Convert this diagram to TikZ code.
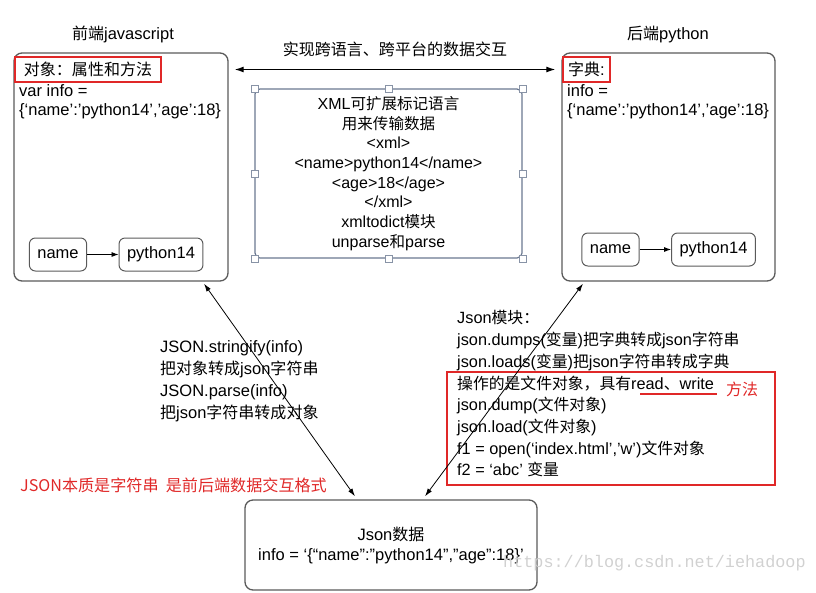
\documentclass[tikz,border=0pt]{standalone}
\usepackage{fontspec}
\setmainfont{Liberation Sans}
\newfontfamily\zhfont[Scale=0.97]{Noto Sans CJK SC}
\newfontfamily\wmfont{Liberation Mono}
\newcommand{\zh}[1]{{\zhfont #1}}
\usepackage{xcolor}
\usetikzlibrary{positioning,calc,arrows.meta}
\definecolor{NoteRed}{HTML}{E02828}
\definecolor{BoxGray}{HTML}{5A5A5A}
\definecolor{XmlEdge}{HTML}{6A7890}

\begin{document}
\begin{tikzpicture}[x=1pt,y=-1pt,every node/.style={font=\fontsize{16.5}{19}\selectfont}]
  \useasboundingbox (0,0) rectangle (816,592);

    \tikzstyle{side}=[
      draw=BoxGray,
      line width=1.3pt,
      rounded corners=8pt,
      minimum width=214pt,
      minimum height=228pt
    ]
    \tikzstyle{pill}=[draw=BoxGray, line width=1pt, rounded corners=6pt, minimum height=33pt, inner xsep=8pt]
    \tikzstyle{redbox}=[draw=NoteRed, line width=2pt, minimum height=25pt, inner xsep=3pt]
    \tikzstyle{txt}=[anchor=north west, inner sep=0pt, align=left]
    \tikzstyle{handle}=[draw=XmlEdge!80, fill=white, line width=0.6pt, minimum size=7pt, inner sep=0pt]
    \tikzstyle{link}=[{Latex[length=8pt,width=5pt]}-{Latex[length=8pt,width=5pt]}, line width=0.8pt]

    % --- Titles ---
    \node (fronttitle) at (123,34) {\zh{前端}javascript};
    \node (backtitle) at (668,35) {\zh{后端}python};
    \node (bridge) at (395,49) {\zh{实现跨语言、跨平台的数据交互}};

    % --- Front end ---
    \node[side] (front) at (121,167) {};
    \node[redbox, anchor=west, minimum width=146pt] (jsobj) at (14,69.5) {\zh{对象：属性和方法}};
    \node[txt] (jsvar) at (19,84) {var info =\\\{‘name’:’python14’,’age’:18\}};
    \node[pill] (jsname) at (58,254.5) {name};
    \node[pill] (jsval) at (161,254.5) {python14};

    % --- Back end ---
    \node[side, minimum width=213pt] (back) at (668.5,167) {};
    \node[redbox, anchor=west, minimum width=47pt] (dict) at (562,69.5) {\zh{字典}:};
    \node[txt] (pyvar) at (567,84) {info =\\\{‘name’:’python14’,’age’:18\}};
    \node[pill] (pyname) at (610.5,249.5) {name};
    \node[pill] (pyval) at (713.5,249.5) {python14};

    % --- XML in the middle ---
    \node[draw=XmlEdge, line width=1.2pt, rounded corners=5pt, minimum width=267pt, minimum height=169pt,
      align=center, font=\fontsize{16}{19.7}\selectfont] (xml) at (388.5,173.5)
      {XML\zh{可扩展标记语言}\\\zh{用来传输数据}\\<xml>\\<name>python14</name>\\<age>18</age>\\</xml>\\xmltodict\zh{模块}\\unparse\zh{和}parse};
    \foreach \a in {north west,north,north east,east,south east,south,south west,west}
      \node[handle] at (xml.\a) {};

    % --- Json data ---
    \node[draw=BoxGray, line width=1.3pt, rounded corners=8pt, minimum width=292pt, minimum height=90pt,
      align=center, font=\fontsize{16.5}{20}\selectfont] (json) at (391,545)
      {Json\zh{数据}\\info = ‘\{“name”:”python14”,”age”:18\}’};

    % --- Notes ---
    \node[txt, font=\fontsize{16.5}{22}\selectfont] (jsapi) at (160,340)
      {JSON.stringify(info)\\\zh{把对象转成}json\zh{字符串}\\JSON.parse(info)\\\zh{把}json\zh{字符串转成对象}};
    \node[txt, font=\fontsize{16.3}{21.7}\selectfont] (pyapi) at (457,310.5)
      {Json\zh{模块：}\\json.dumps(\zh{变量})\zh{把字典转成}json\zh{字符串}\\json.loads(\zh{变量})\zh{把}json\zh{字符串转成字典}\\\zh{操作的是文件对象，具有}read\zh{、}write\\json.dump(\zh{文件对象})\\json.load(\zh{文件对象})\\f1 = open(‘index.html’,’w’)\zh{文件对象}\\f2 = ‘abc’ \zh{变量}};
    \draw[draw=NoteRed, line width=2pt] (447,372) rectangle (775,485);
    \draw[NoteRed, line width=1.5pt] (640,394) -- (717,394);
    \node[anchor=west, text=NoteRed, inner sep=0pt] (method) at (726,389) {\zh{方法}};
    \node[anchor=west, text=NoteRed, inner sep=0pt, font=\zhfont\fontsize{16.6}{19}\selectfont] (essence) at (20,485)
      {JSON本质是字符串\ \ 是前后端数据交互格式};
    \node[anchor=west, inner sep=0pt, text=black!18, font=\wmfont\fontsize{16.8}{19}\selectfont] (mark) at (503,563)
      {https://blog.csdn.net/iehadoop};

    % --- Arrows ---
    \draw[-{Latex[length=7pt,width=5pt]}, line width=0.8pt] (jsname) -- (jsval);
    \draw[-{Latex[length=7pt,width=5pt]}, line width=0.8pt] (pyname) -- (pyval);
    \draw[{Latex[length=9pt,width=6pt]}-{Latex[length=9pt,width=6pt]}, line width=1.2pt]
      ($(front.east |- jsobj.west)+(6,0)$) -- ($(back.west |- dict.west)+(-6,0)$);
    \draw[link] ([shift={(83,2)}]front.south) -- ([shift={(-36,-3)}]json.north);
    \draw[link] ([shift={(-85.5,2)}]back.south) -- ([shift={(34,-3)}]json.north);

  \end{tikzpicture}
\end{document}
